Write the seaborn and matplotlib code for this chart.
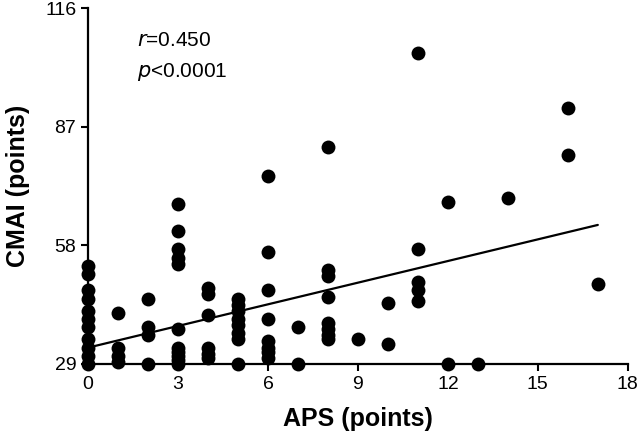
import seaborn as sns
import matplotlib.pyplot as plt
import pandas as pd

# APS score and CMAI score for each patient
aps = ([0] * 11 + [1] * 4 + [2] * 4 + [3] * 11 + [4] * 6 + [5] * 8 + [6] * 8
       + [7] * 2 + [8] * 8 + [9] + [10] * 2 + [11] * 5 + [12] * 2 + [13] + [14]
       + [16] * 2 + [17])
cmai = [53, 51, 47, 45, 42, 40, 38, 35, 33, 31, 29,
        41.5, 33, 31, 29.5,
        45, 38, 36, 29,
        68, 61.5, 57, 55, 53.5, 37.5, 33, 32, 31, 30, 29,
        47.5, 46, 41, 33, 31.5, 30.5,
        45, 43.5, 42, 40, 38.5, 36.5, 35, 29,
        75, 56.5, 47, 40, 34.5, 33, 32, 30.5,
        38, 29,
        82, 52, 50.5, 45.5, 39, 37.5, 36, 35,
        35,
        44, 34,
        105, 57, 49, 47, 44.5,
        68.5, 29,
        29,
        69.5,
        91.5, 80,
        48.5]
# fitted regression line as published (ends)
fit_aps = [0, 17]
fit_cmai = [33, 63]
x_ticks = [0, 3, 6, 9, 12, 15, 18]
y_ticks = [29, 58, 87, 116]

df = pd.DataFrame({'APS': aps, 'CMAI': cmai})
fit_df = pd.DataFrame({'APS': fit_aps, 'CMAI': fit_cmai})

sns.set_style('ticks')
plt.rcParams['font.family'] = ['Liberation Sans', 'DejaVu Sans']
plt.rcParams['text.color'] = 'black'
plt.rcParams['axes.labelcolor'] = 'black'

fig = plt.figure(figsize=(6.38, 4.42), dpi=100)
ax = fig.add_axes([0.138, 0.1765, 0.846, 0.805])

sns.scatterplot(data=df, x='APS', y='CMAI', ax=ax, color='black', s=100,
                linewidth=0, clip_on=False, zorder=3)
sns.lineplot(data=fit_df, x='APS', y='CMAI', ax=ax, color='black', linewidth=1.6)

ax.set_xlim(0, 18)
ax.set_ylim(29, 116)
ax.set_xticks(x_ticks)
ax.set_yticks(y_ticks)
ax.tick_params(axis='both', labelsize=14, width=1.5, length=5, color='black',
               labelcolor='black')
for side in ['left', 'bottom']:
    ax.spines[side].set_linewidth(1.6)
    ax.spines[side].set_color('black')
sns.despine(ax=ax)

ax.set_xlabel('APS (points)', fontsize=18, fontweight='bold', labelpad=10)
ax.set_ylabel('CMAI (points)', fontsize=18, fontweight='bold', labelpad=11)

ax.text(1.63, 108, r'$\mathit{r}$=0.450', fontsize=15, va='center')
ax.text(1.63, 100.5, r'$\mathit{p}$<0.0001', fontsize=15, va='center')

fig.savefig('out.png', dpi=100)
